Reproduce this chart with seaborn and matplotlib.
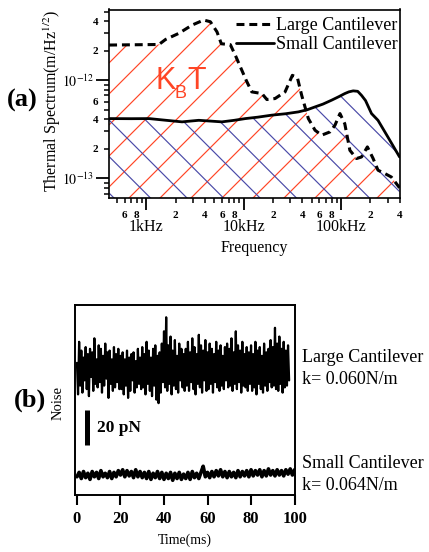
import numpy as np
import pandas as pd
import matplotlib
matplotlib.use("Agg")
import matplotlib.pyplot as plt
import seaborn as sns
from matplotlib.collections import LineCollection
from matplotlib.transforms import IdentityTransform
from matplotlib.ticker import FixedLocator, FixedFormatter

# ---------------- (a) thermal spectrum ----------------
large_freq_hz = [416, 1350, 1580, 2160, 2950, 3890, 4550, 5320, 5900, 7300, 8300,
                 10600, 12100, 15400, 17300, 21000, 26600, 31600, 35600, 39400,
                 46100, 54000, 63100, 76800, 86400, 97300, 109000, 123000, 144000,
                 162000, 186000, 213000, 239000, 280000, 328000, 398000]
large_amp = [2.28e-12, 2.31e-12, 2.60e-12, 3.0e-12, 3.64e-12, 4.1e-12, 3.94e-12,
             3.11e-12, 2.35e-12, 2.30e-12, 1.75e-12, 1.0e-12, 0.76e-12, 0.73e-12,
             0.635e-12, 0.65e-12, 0.76e-12, 1.12e-12, 1.06e-12, 0.70e-12, 0.406e-12,
             0.309e-12, 0.275e-12, 0.297e-12, 0.347e-12, 0.457e-12, 0.36e-12,
             0.193e-12, 0.159e-12, 0.165e-12, 0.209e-12, 0.159e-12, 0.121e-12,
             0.112e-12, 0.103e-12, 0.080e-12]
small_freq_hz = [416, 700, 1070, 1600, 2330, 3460, 5980, 8000, 10400, 14000, 19400,
                 27000, 36400, 45000, 54000, 65000, 79800, 95000, 109000, 120000,
                 133000, 148000, 162000, 178000, 205000, 239000, 303000, 398000]
small_amp = [0.406e-12, 0.405e-12, 0.406e-12, 0.39e-12, 0.376e-12, 0.39e-12,
             0.376e-12, 0.39e-12, 0.406e-12, 0.42e-12, 0.44e-12, 0.455e-12,
             0.475e-12, 0.50e-12, 0.534e-12, 0.57e-12, 0.625e-12, 0.68e-12,
             0.73e-12, 0.76e-12, 0.778e-12, 0.77e-12, 0.70e-12, 0.62e-12,
             0.457e-12, 0.39e-12, 0.262e-12, 0.165e-12]

x_major_ticks = [1e3, 1e4, 1e5]
x_major_labels = ["1kHz", "10kHz", "100kHz"]
x_minor_ticks = [500, 600, 700, 800, 900, 2e3, 3e3, 4e3, 5e3, 6e3, 7e3, 8e3, 9e3,
                 2e4, 3e4, 4e4, 5e4, 6e4, 7e4, 8e4, 9e4, 2e5, 3e5, 4e5]
x_minor_labels = ["", "6", "", "8", "", "2", "", "4", "", "6", "", "8", "",
                  "2", "", "4", "", "6", "", "8", "", "2", "", "4"]
y_major_ticks = [1e-13, 1e-12]
y_major_labels = [r"$10^{-13}$", r"$10^{-12}$"]
y_minor_ticks = [7e-14, 8e-14, 9e-14, 2e-13, 3e-13, 4e-13, 5e-13, 6e-13, 7e-13,
                 8e-13, 9e-13, 2e-12, 3e-12, 4e-12, 5e-12]
y_minor_labels = ["", "", "", "2", "", "4", "", "6", "", "", "", "2", "", "4", ""]

# ---------------- (b) noise traces, pN ----------------
large_noise_pn = [
    4, -14, 16, -9, 11, -13, 7, -6, 13, -11, 9, -15, 12, -4, 10, -12, 18, -8, 6, -10,
    14, -7, 12, -13, 8, -9, 15, -5, 10, -16, 11, -8, 6, -12, 13, -10, 9, -7, 12, -11,
    8, -11, 10, -14, 6, -9, 11, -16, 7, -12, 9, -6, 10, -13, 5, -10, 12, -8, 7, -11,
    13, -10, 9, -14, 16, -8, 11, -12, 7, -15, 12, -9, 14, -17, 8, -19, 10, -13, 15, -7,
    22, -10, 30, -12, 14, -8, 19, -14, 11, -9, 17, -11, 8, -13, 15, -6, 12, -10, 9, -12,
    12, -9, 16, -12, 10, -7, 18, -11, 13, -14, 9, -8, 20, -10, 14, -13, 11, -6, 17, -12,
    10, -11, 15, -8, 12, -13, 9, -7, 16, -10, 11, -12, 14, -9, 8, -11, 13, -6, 15, -10,
    12, -9, 18, -12, 10, -8, 22, -11, 14, -7, 11, -13, 16, -9, 9, -10, 13, -12, 10, -8,
    14, -12, 9, -10, 16, -14, 11, -8, 13, -11, 8, -13, 15, -9, 10, -12, 12, -7, 17, -10,
    13, -9, 24, -11, 15, -12, 19, -8, 12, -13, 16, -10, 11, -9, 14, -6]
small_noise_pn = [
    -1, 1.5, -2, 2, -1.5, 1, -2.5, 2, -1, 1.5,
    -2, 2.5, -1, 1, -1.5, 2, -2, 1.5, -1, 2.5,
    0, 3, -1, 2.5, -0.5, 2, -1.5, 3, -1, 2,
    -1.5, 1.5, -2, 2, -2.5, 1, -1.5, 2, -2, 1.5,
    -2.5, 1, -2, 1.5, -3, 1, -2, 1.5, -2.5, 0.5,
    -2, 1.5, -2.5, 2, -1.5, 1, -2, 1.5, 5, -1,
    1.5, -1.5, 2, -1, 2.5, -0.5, 3, -1, 2, -1.5,
    2, -1, 1.5, -1.5, 2.5, -1, 2, -0.5, 2.5, -1,
    3, -0.5, 2.5, 0, 3, -1, 2.5, -0.5, 3.5, 0,
    2.5, -0.5, 3, 0, 2.5, -0.5, 3, 0.5, 3.5, 0, 3]
large_end_ms = 97.5
small_end_ms = 100
large_offset_pn = 60
time_ticks = [0, 20, 40, 60, 80, 100]
scale_bar_pn = 20

# ---------------- style ----------------
sns.set_style("ticks")
plt.rcParams.update({
    "font.family": ["Liberation Serif", "DejaVu Serif"],
    "mathtext.fontset": "stix",
    "axes.edgecolor": "black",
    "xtick.color": "black",
    "ytick.color": "black",
    "text.color": "black",
    "axes.labelcolor": "black",
})

W, H = 429, 552
fig = plt.figure(figsize=(W / 100, H / 100), dpi=100)


def fx(p):
    return p / W


def fy(p):
    return 1 - p / H


RED = "#ff4525"
BLUE = "#4a4aa8"

# ---------------- panel (a) ----------------
ax1 = fig.add_axes([fx(109), fy(198), fx(400) - fx(109), fy(9.5) - fy(198)])
ax1.set_xscale("log")
ax1.set_yscale("log")
ax1.set_xlim(415, 402000)
ax1.set_ylim(6.3e-14, 5.25e-12)


def hatch_under(ax, xs, ys, color, spacing, phase_px, slope):
    poly = ax.fill_between(xs, 1e-15, ys, facecolor="none", edgecolor="none", lw=0)
    path = poly.get_paths()[0]
    bb = ax.bbox
    x0, x1, y1 = bb.x0, bb.x1, bb.y1
    n = int((bb.width + bb.height) / spacing) + 3
    segs = []
    for k in range(-n, n + 1):
        if slope > 0:
            c = y1 - phase_px - k * spacing - x0
            segs.append([(x0, x0 + c), (x1, x1 + c)])
        else:
            c = y1 - phase_px - k * spacing + x0
            segs.append([(x0, c - x0), (x1, c - x1)])
    lc = LineCollection(segs, colors=color, linewidths=0.85,
                        transform=IdentityTransform(), zorder=1)
    ax.add_collection(lc, autolim=False)
    lc.set_clip_path(path, ax.transData)


hatch_under(ax1, large_freq_hz, large_amp, RED, 31, 53.5, +1)
hatch_under(ax1, small_freq_hz, small_amp, BLUE, 36.5, 110.5, -1)

df_large = pd.DataFrame({"freq": large_freq_hz, "amp": large_amp})
df_small = pd.DataFrame({"freq": small_freq_hz, "amp": small_amp})
sns.lineplot(data=df_large, x="freq", y="amp", ax=ax1, color="black", lw=2.2,
             estimator=None, zorder=3)
line_large = ax1.lines[-1]
line_large.set_dashes((2.6, 1.6))
sns.lineplot(data=df_small, x="freq", y="amp", ax=ax1, color="black", lw=2.0,
             estimator=None, zorder=3)
line_small = ax1.lines[-1]

ax1.set_xlim(415, 402000)
ax1.set_ylim(6.3e-14, 5.25e-12)

ax1.xaxis.set_major_locator(FixedLocator(x_major_ticks))
ax1.xaxis.set_major_formatter(FixedFormatter(x_major_labels))
ax1.xaxis.set_minor_locator(FixedLocator(x_minor_ticks))
ax1.xaxis.set_minor_formatter(FixedFormatter(x_minor_labels))
ax1.yaxis.set_major_locator(FixedLocator(y_major_ticks))
ax1.yaxis.set_major_formatter(FixedFormatter(y_major_labels))
ax1.yaxis.set_minor_locator(FixedLocator(y_minor_ticks))
ax1.yaxis.set_minor_formatter(FixedFormatter(y_minor_labels))

ax1.tick_params(axis="x", which="major", direction="out", length=8.6, width=1.3,
                labelsize=11.5, pad=6.5)
ax1.tick_params(axis="x", which="minor", direction="out", length=3.6, width=1.1,
                labelsize=8, pad=5.5)
ax1.tick_params(axis="y", which="major", direction="out", length=9.4, width=1.3,
                labelsize=10, pad=1.5)
ax1.tick_params(axis="y", which="minor", direction="out", length=3.8, width=1.1,
                labelsize=8, pad=4)
for t in ax1.xaxis.get_minor_ticks() + ax1.yaxis.get_minor_ticks():
    t.label1.set_fontweight("bold")
for s in ax1.spines.values():
    s.set_linewidth(1.2)
    s.set_color("black")

ax1.set_xlabel("Frequency", fontsize=11.5)
ax1.xaxis.set_label_coords(0.5, -0.225)
ax1.set_ylabel("Thermal Spectrum(m/Hz$^{1/2}$)", fontsize=11.5)
ax1.yaxis.set_label_coords(-0.158, 0.515)

leg = ax1.legend([line_large, line_small], ["Large Cantilever", "Small Cantilever"],
                 loc="upper right", bbox_to_anchor=(1.0, 0.972), frameon=False,
                 fontsize=13, handlelength=2.1, handletextpad=0.1,
                 labelspacing=0.1, borderaxespad=0.0, borderpad=0.15)

# K_B T annotation
fig.text(fx(155), fy(89), "K", color=RED, fontsize=22, family="Liberation Sans",
         ha="left", va="baseline")
fig.text(fx(174), fy(98), "B", color=RED, fontsize=13, family="Liberation Sans",
         ha="left", va="baseline")
fig.text(fx(187), fy(89), "T", color=RED, fontsize=22, family="Liberation Sans",
         ha="left", va="baseline")

fig.text(fx(22), fy(100), "(a)", fontsize=19, fontweight="bold", ha="center", va="center")

# ---------------- panel (b) ----------------
ax2 = fig.add_axes([fx(75), fy(495), fx(295) - fx(75), fy(305) - fy(495)])
t_large = np.linspace(0, large_end_ms, len(large_noise_pn))
t_small = np.linspace(0, small_end_ms, len(small_noise_pn))
sns.lineplot(x=t_large, y=np.asarray(large_noise_pn) + large_offset_pn, ax=ax2,
             color="black", lw=1.6, estimator=None)
sns.lineplot(x=t_small, y=small_noise_pn, ax=ax2, color="black", lw=2.6,
             estimator=None)

bar_t, bar_bottom = 4.8, 17
ax2.plot([bar_t, bar_t], [bar_bottom, bar_bottom + scale_bar_pn], color="black",
         lw=3.6, solid_capstyle="butt")
ax2.text(bar_t + 4.4, bar_bottom + scale_bar_pn / 2, f"{scale_bar_pn} pN",
         fontsize=12.5, fontweight="bold", va="center", ha="left")

ax2.set_xlim(-0.9, 100.2)
ax2.set_ylim(-11.4, 97)
ax2.set_xticks(time_ticks)
ax2.set_xticklabels([str(v) for v in time_ticks])
ax2.set_yticks([])
ax2.tick_params(axis="x", direction="out", length=7.5, width=1.5, labelsize=12, pad=4)
for lab in ax2.get_xticklabels():
    lab.set_fontweight("bold")
for s in ax2.spines.values():
    s.set_linewidth(1.4)
    s.set_color("black")
ax2.set_xlabel("Time(ms)", fontsize=10)
ax2.xaxis.set_label_coords(0.5, -0.205)
ax2.set_ylabel("Noise", fontsize=10.5)
ax2.yaxis.set_label_coords(-0.045, 0.484)

fig.text(fx(302), fy(357), "Large Cantilever", fontsize=13, va="center", ha="left")
fig.text(fx(302), fy(380), "k= 0.060N/m", fontsize=13, va="center", ha="left")
fig.text(fx(302), fy(463), "Small Cantilever", fontsize=13, va="center", ha="left")
fig.text(fx(302), fy(486), "k= 0.064N/m", fontsize=13, va="center", ha="left")
fig.text(fx(30), fy(400), "(b)", fontsize=19, fontweight="bold", ha="center", va="center")

fig.savefig("out.png", dpi=100)
